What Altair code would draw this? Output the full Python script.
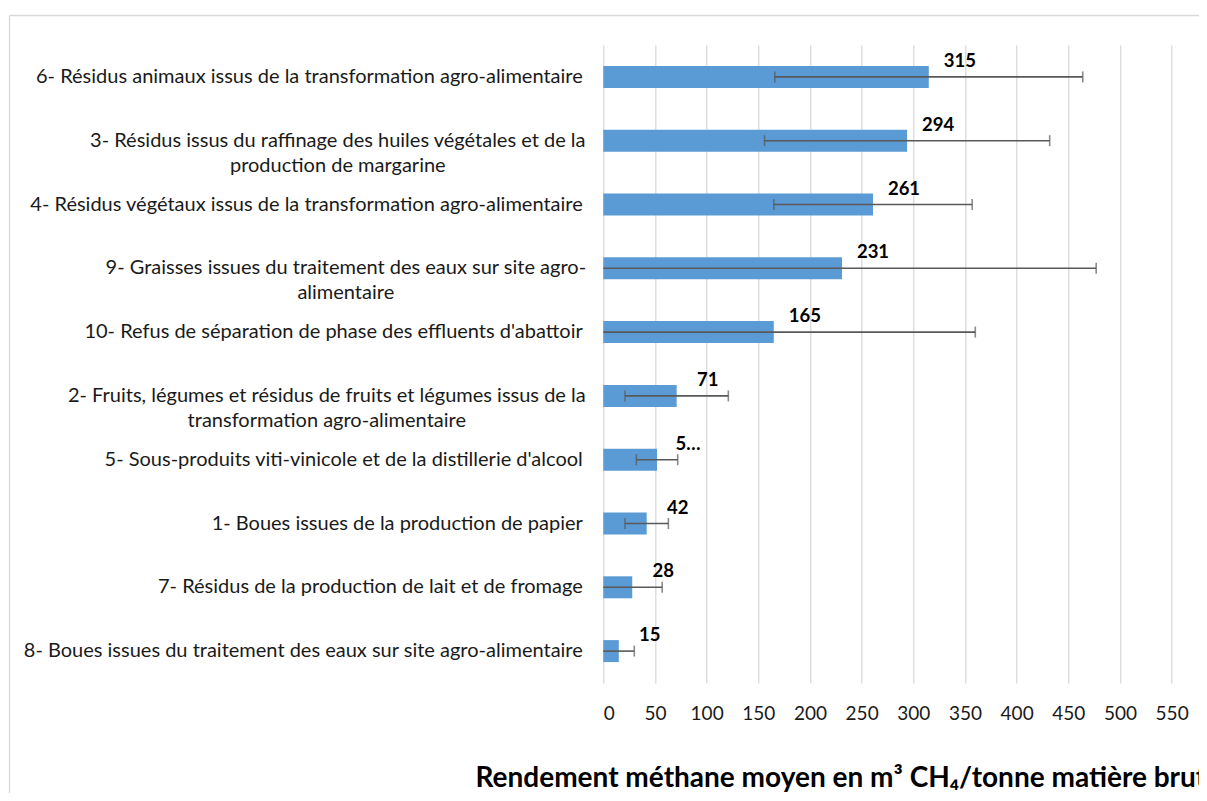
import altair as alt
import pandas as pd

# ---- data ----
categories = [
    "6- Résidus animaux issus de la transformation agro-alimentaire",
    "3- Résidus issus du raffinage des huiles végétales et de la|production de margarine",
    "4- Résidus végétaux issus de la transformation agro-alimentaire",
    "9- Graisses issues du traitement des eaux sur site agro-|alimentaire",
    "10- Refus de séparation de phase des effluents d'abattoir",
    "2- Fruits, légumes et résidus de fruits et légumes issus de la|transformation agro-alimentaire",
    "5- Sous-produits viti-vinicole et de la distillerie d'alcool",
    "1- Boues issues de la production de papier",
    "7- Résidus de la production de lait et de fromage",
    "8- Boues issues du traitement des eaux sur site agro-alimentaire",
]
values = [315, 294, 261, 231, 165, 71, 52, 42, 28, 15]
errors = [149, 138, 96, 246, 195, 50, 20, 21, 29, 15]
value_labels = ["315", "294", "261", "231", "165", "71", "5…", "42", "28", "15"]
x_ticks = [0, 50, 100, 150, 200, 250, 300, 350, 400, 450, 500, 550]
x_title = "Rendement méthane moyen en m³ CH₄/tonne matière brute"

df = pd.DataFrame({"cat": categories, "val": values, "err": errors, "lab": value_labels})
df["lo"] = (df["val"] - df["err"]).clip(lower=0)
df["hi"] = df["val"] + df["err"]

FONT = "Lato"
BLUE = "#5B9BD5"
ERR = "#595959"
GRID = "#D9D9D9"

PLOT_W = 595.7
PLOT_H = 638
X_MAX = 576.5

y_enc = alt.Y(
    "cat:N",
    sort=None,
    scale=alt.Scale(paddingInner=0, paddingOuter=0),
    axis=alt.Axis(
        title=None,
        domain=False,
        ticks=False,
        grid=False,
        labelExpr="split(datum.label, '|')",
        labelFont=FONT,
        labelFontSize=20,
        labelColor="#1a1a1a",
        labelLimit=0,
        labelLineHeight=25,
        labelAlign={
            "condition": {"test": "indexof(datum.value, '|') >= 0", "value": "center"},
            "value": "right",
        },
        labelPadding={
            "condition": [
                {"test": "indexof(datum.value, '3- ') == 0", "value": 266},
                {"test": "indexof(datum.value, '9- ') == 0", "value": 258},
                {"test": "indexof(datum.value, '2- ') == 0", "value": 277},
            ],
            "value": 21,
        },
    ),
)

x_scale = alt.Scale(domain=[0, X_MAX], nice=False, zero=True)

base = alt.Chart(df)

bars = base.mark_bar(size=22, color=BLUE).encode(
    x=alt.X(
        "val:Q",
        scale=x_scale,
        axis=alt.Axis(
            values=x_ticks,
            domain=False,
            ticks=False,
            grid=True,
            gridColor=GRID,
            gridWidth=1.3,
            labelFont=FONT,
            labelFontSize=19,
            labelColor="#1a1a1a",
            labelPadding=21,
            title=x_title,
            titleFont=FONT,
            titleFontSize=28,
            titleFontWeight="bold",
            titleColor="#000000",
            titleAlign="left",
            titleBaseline="alphabetic",
            titleX=-128.3,
            titleY=103,
        ),
    ),
    y=y_enc,
)

err_rule = base.mark_rule(color=ERR, strokeWidth=1.6).encode(
    x=alt.X("lo:Q", scale=x_scale), x2="hi:Q", y=alt.Y("cat:N", sort=None)
)
cap_hi = base.mark_tick(color=ERR, size=11, thickness=1.6, orient="vertical").encode(
    x=alt.X("hi:Q", scale=x_scale), y=alt.Y("cat:N", sort=None)
)
cap_lo = (
    base.transform_filter("datum.lo > 0")
    .mark_tick(color=ERR, size=11, thickness=1.6, orient="vertical")
    .encode(x=alt.X("lo:Q", scale=x_scale), y=alt.Y("cat:N", sort=None))
)
labels = base.mark_text(
    font=FONT, fontSize=18.5, fontWeight="bold", color="#000000",
    align="center", baseline="middle", dx=31, dy=-16,
).encode(x=alt.X("val:Q", scale=x_scale), y=alt.Y("cat:N", sort=None), text="lab:N")

frame_data = alt.Data(values=[{"k": 1}])
frame_top = alt.Chart(frame_data).mark_rule(color=GRID, strokeWidth=1.3).encode(
    x=alt.value(-593.8), x2=alt.value(700), y=alt.value(-29.5)
)
frame_left = alt.Chart(frame_data).mark_rule(color=GRID, strokeWidth=1.3).encode(
    x=alt.value(-593.8), y=alt.value(-29.5), y2=alt.value(800)
)

chart = (
    alt.layer(frame_top, frame_left, bars, err_rule, cap_hi, cap_lo, labels)
    .properties(
        width=PLOT_W,
        height=PLOT_H,
        autosize=alt.AutoSizeParams(type="none"),
        padding={"left": 595.3, "top": 37, "right": 0, "bottom": 110},
        background="white",
    )
    .configure_view(stroke=None)
)

chart.save("out.html", embed_options={"renderer": "svg", "actions": False})
